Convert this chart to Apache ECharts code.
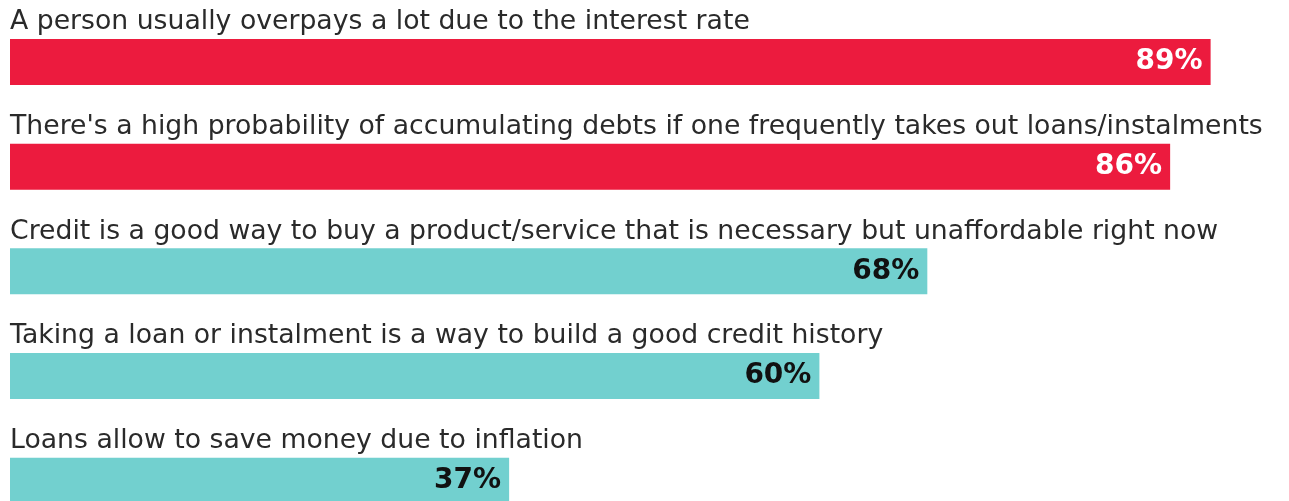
<!DOCTYPE html>
<html>
<head>
<meta charset="utf-8">
<script src="https://cdn.jsdelivr.net/npm/echarts@6/dist/echarts.min.js"></script>
<style>
  html, body { margin: 0; padding: 0; background: #ffffff; overflow: hidden; }
  #chart { width: 1370px; height: 545px; }
</style>
</head>
<body>
<div id="chart"></div>
<script>
// Statements, top to bottom
const categories = [
  "A person usually overpays a lot due to the interest rate",
  "There's a high probability of accumulating debts if one frequently takes out loans/instalments",
  "Credit is a good way to buy a product/service that is necessary but unaffordable right now",
  "Taking a loan or instalment is a way to build a good credit history",
  "Loans allow to save money due to inflation"
];
// Share of respondents who agree, %
const values = [89, 86, 68, 60, 37];
// Negative statements are red, positive ones teal
const groups = ["neg", "neg", "pos", "pos", "pos"];

const RED = "#EC1B3E";
const TEAL = "#72D0CF";

const chart = echarts.init(document.getElementById("chart"), null, { renderer: "canvas" });

const seriesData = values.map((v, i) => ({
  value: v,
  itemStyle: { color: groups[i] === "neg" ? RED : TEAL },
  label: { color: groups[i] === "neg" ? "#ffffff" : "#111111" }
}));

chart.setOption({
  animation: false,
  backgroundColor: "#ffffff",
  grid: { left: 10, top: 9.6, width: 1349, height: 523.5, containLabel: false },
  xAxis: {
    type: "value",
    min: 0,
    max: 100,
    show: false
  },
  yAxis: {
    type: "category",
    data: categories,
    inverse: true,
    axisLine: { show: false },
    axisTick: { show: false },
    splitLine: { show: false },
    axisLabel: {
      inside: true,
      margin: 0,
      align: "left",
      verticalAlign: "bottom",
      padding: [0, 0, 26, 0],
      fontFamily: "DejaVu Sans",
      fontSize: 26.7,
      color: "#2a2a2a"
    }
  },
  series: [{
    type: "bar",
    data: seriesData,
    barWidth: 46,
    label: {
      show: true,
      position: "insideRight",
      distance: 8,
      formatter: p => p.value + "%",
      fontFamily: "DejaVu Sans",
      fontWeight: "bold",
      fontSize: 28
    }
  }]
});
</script>
</body>
</html>
